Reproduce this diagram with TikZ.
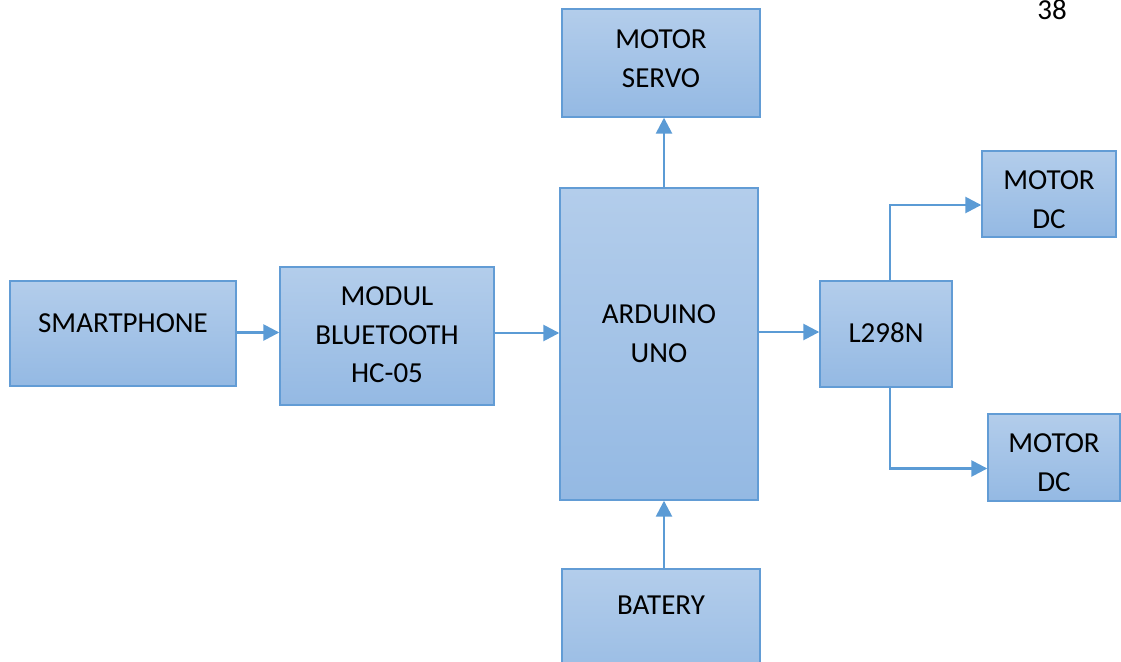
\documentclass[tikz,border=0pt]{standalone}
\usepackage{fontspec}
\setmainfont{Carlito}
\usetikzlibrary{arrows.meta}
\definecolor{bordc}{RGB}{98,156,213}
\definecolor{topc}{RGB}{179,205,235}
\definecolor{botc}{RGB}{148,185,227}
\definecolor{arrc}{RGB}{91,155,213}
\tikzset{
  box/.style={rectangle, draw=bordc, line width=1.4pt, top color=topc, bottom color=botc, inner sep=0pt},
  txt/.style={align=center, inner sep=0pt, font=\fontsize{29}{38.5}\selectfont},
  arr/.style={draw=arrc, line width=2.6pt, -{Triangle[length=16pt,width=16pt]}}
}
\begin{document}
\begin{tikzpicture}[x=1pt,y=-1pt]
\clip (0,0) rectangle (1121,661);
% boxes
\node[box, minimum width=226pt, minimum height=105pt] (sp) at (123,333.5) {};
\node[box, minimum width=214pt, minimum height=138pt] (bt) at (387,336) {};
\node[box, minimum width=198pt, minimum height=312pt] (ard) at (659,344) {};
\node[box, minimum width=198pt, minimum height=108pt] (servo) at (661,63) {};
\node[box, minimum width=198pt, minimum height=131pt] (bat) at (661,634.5) {};
\node[box, minimum width=132pt, minimum height=106pt] (l298) at (886,334) {};
\node[box, minimum width=134pt, minimum height=86pt] (dc1) at (1049,194) {};
\node[box, minimum width=132pt, minimum height=87pt] (dc2) at (1054,457.5) {};
% texts
\node[txt] (sp-t) at (123,323) {SMARTPHONE};
\node[txt] (bt-t) at (387,335) {MODUL\\BLUETOOTH\\HC-05};
\node[txt] (ard-t) at (659,333.5) {ARDUINO\\UNO};
\node[txt] (servo-t) at (661,58.5) {MOTOR\\SERVO};
\node[txt] (bat-t) at (661,605) {BATERY};
\node[txt] (l298-t) at (886,333) {L298N};
\node[txt] (dc1-t) at (1049,199.5) {MOTOR\\DC};
\node[txt] (dc2-t) at (1054,462.5) {MOTOR\\DC};
\node[txt] (page) at (1052,10) {38};
% connectors
\draw[arr] ([yshift=1pt]sp.east) -- ([yshift=1pt]sp.east -| bt.west);
\draw[arr] ([yshift=3pt]bt.east) -- ([yshift=3pt]bt.east -| ard.west);
\draw[arr] ([yshift=2pt]l298.west -| ard.east) -- ([yshift=2pt]l298.west);
\draw[arr] ([xshift=5pt]ard.north) -- ([xshift=5pt]ard.north |- servo.south);
\draw[arr] ([xshift=3pt]bat.north) -- ([xshift=3pt]bat.north |- ard.south);
\draw[arr] ([xshift=4pt]l298.north) |- ([yshift=-11pt]dc1.west);
\draw[arr] ([xshift=4pt]l298.south) |- ([yshift=-11pt]dc2.west);
\end{tikzpicture}
\end{document}
